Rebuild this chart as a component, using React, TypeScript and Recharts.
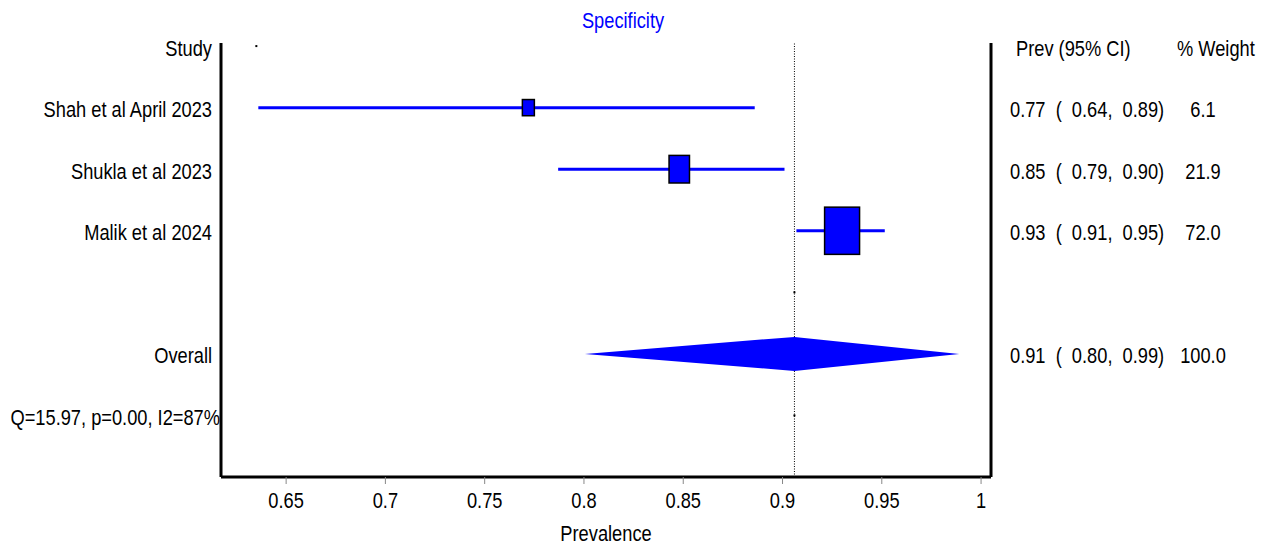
import React from 'react';
import { ComposedChart, XAxis, YAxis, Scatter, ReferenceLine } from 'recharts';

// rows, top to bottom (row index is the y value)
const rowLabels = ['Study', 'Shah et al April 2023', 'Shukla et al 2023', 'Malik et al 2024', '', 'Overall', 'Q=15.97, p=0.00, I2=87%'];
const ciLabels = ['Prev (95% CI)', '0.77  (  0.64,  0.89)', '0.85  (  0.79,  0.90)', '0.93  (  0.91,  0.95)', '', '0.91  (  0.80,  0.99)', ''];
const weightLabels = ['% Weight', '6.1', '21.9', '72.0', '', '100.0', ''];

// individual studies
const studyRows = [1, 2, 3];
const studyEst = [0.772, 0.848, 0.930];
const studyLo = [0.636, 0.787, 0.907];
const studyHi = [0.886, 0.901, 0.9515];
const studyWeight = [6.1, 21.9, 72.0];

// pooled estimate
const overallRow = 5;
const overallEst = 0.906;
const overallLo = 0.8005;
const overallHi = 0.989;

const xTicks = [0.65, 0.7, 0.75, 0.8, 0.85, 0.9, 0.95, 1];
const rowTicks = [0, 1, 2, 3, 4, 5, 6];

// tiny marker dots on empty rows
const markerX = [0.635, 0.906, 0.906];
const markerRow = [0, 4, 6];

const FONT = "'Liberation Sans', Arial, sans-serif";
const BLUE = '#0000ff';
const FS = 22;
const SX = 0.83; // squeeze to look like a narrow face

const boxData = studyRows.map((r, i) => ({ x: studyEst[i], y: r, w: studyWeight[i] }));
const diamondData = [overallLo, overallEst, overallHi].map((x) => ({ x, y: overallRow }));
const markerData = markerX.map((x, i) => ({ x, y: markerRow[i] }));

const Narrow = ({ x, y, anchor = 'start', fill = '#000', children }: any) => (
  <text
    transform={`translate(${x},${y}) scale(${SX},1)`}
    textAnchor={anchor}
    fontFamily={FONT}
    fontSize={FS}
    fill={fill}
    xmlSpace="preserve"
    style={{ whiteSpace: 'pre' }}
  >
    {children}
  </text>
);

const StudyBox = (props: any) => {
  const { cx, cy, payload } = props;
  const w = 3.82 * Math.sqrt(payload.w) + 2.56;
  const h = w * 1.35;
  return <rect x={cx - w / 2} y={cy - h / 2} width={w} height={h} fill={BLUE} stroke="#000" strokeWidth={1.5} />;
};

const Diamond = (props: any) => {
  const pts = props.points || [];
  if (pts.length < 3) return null;
  const [a, m, b] = pts;
  const hh = 17;
  const d = `M${a.x},${a.y} L${m.x},${m.y - hh} L${b.x},${b.y} L${m.x},${m.y + hh} Z`;
  return <path d={d} fill={BLUE} stroke="none" />;
};

// one row of text: study name on the left, CI and weight on the right
const RowTick = (props: any) => {
  const { y, payload } = props;
  const i = payload.value;
  const base = y + 9.5;
  const header = i === 0;
  return (
    <g>
      <Narrow x={i === 6 ? 220 : 212} y={base} anchor="end">{rowLabels[i]}</Narrow>
      <Narrow x={header ? 1016 : 1010} y={base}>{ciLabels[i]}</Narrow>
      <Narrow x={header ? 1177 : 1203} y={base} anchor={header ? 'start' : 'middle'}>{weightLabels[i]}</Narrow>
    </g>
  );
};

const XTick = (props: any) => {
  const { x, payload } = props;
  return <Narrow x={x} y={508} anchor="middle">{String(payload.value)}</Narrow>;
};

export default function App() {
  return (
    <div style={{ position: 'absolute', left: 0, top: 0, width: 1277, height: 546, background: '#fff' }}>
      <ComposedChart width={1277} height={546} margin={{ top: 43, right: 0, bottom: 0, left: 0 }}>
        <XAxis
          type="number"
          dataKey="x"
          domain={[0.6172, 1.005]}
          allowDataOverflow
          ticks={xTicks}
          interval={0}
          height={69}
          tickSize={7}
          axisLine={{ stroke: '#000', strokeWidth: 3 }}
          tickLine={{ stroke: '#888', strokeWidth: 1 }}
          tick={<XTick />}
        />
        <YAxis
          yAxisId="left"
          type="number"
          dataKey="y"
          orientation="left"
          domain={[-0.05, 7]}
          reversed
          width={221}
          ticks={rowTicks}
          interval={0}
          tickLine={false}
          axisLine={{ stroke: '#000', strokeWidth: 3 }}
          tick={<RowTick />}
        />
        <YAxis
          yAxisId="right"
          type="number"
          orientation="right"
          domain={[-0.05, 7]}
          reversed
          width={286}
          tick={false}
          tickLine={false}
          axisLine={{ stroke: '#000', strokeWidth: 3 }}
        />
        <ReferenceLine yAxisId="left" x={overallEst} stroke="#000" strokeWidth={1} strokeDasharray="1 1.5" ifOverflow="visible" />
        {studyRows.map((r, i) => (
          <ReferenceLine
            key={r}
            yAxisId="left"
            segment={[{ x: studyLo[i], y: r }, { x: studyHi[i], y: r }]}
            stroke={BLUE}
            strokeWidth={3}
            ifOverflow="visible"
          />
        ))}
        <Scatter yAxisId="left" data={diamondData} shape={() => <g />} line={(p: any) => <Diamond {...p} />} isAnimationActive={false} />
        <Scatter yAxisId="left" data={boxData} shape={<StudyBox />} isAnimationActive={false} />
        <Scatter
          yAxisId="left"
          data={markerData}
          shape={(p: any) => <rect x={p.cx - 1} y={p.cy - 1} width={2} height={2} fill="#000" />}
          isAnimationActive={false}
        />
        <Narrow x={623} y={28} anchor="middle" fill={BLUE}>Specificity</Narrow>
        <Narrow x={606} y={541} anchor="middle">Prevalence</Narrow>
      </ComposedChart>
    </div>
  );
}
